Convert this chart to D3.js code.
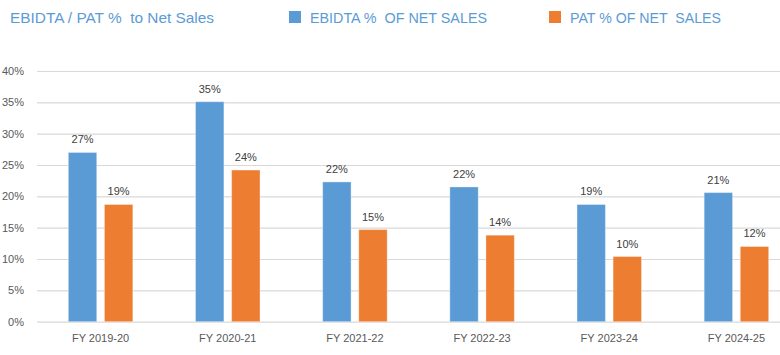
<!DOCTYPE html>
<html><head><meta charset="utf-8">
<script src="https://cdn.jsdelivr.net/npm/d3@7"></script>
<style>
html,body{margin:0;padding:0;background:#fff;overflow:hidden;}
text{white-space:pre;font-family:"Liberation Sans",Arial,sans-serif;}
</style></head>
<body><svg id="c" width="780" height="355"></svg>
<script>
const categories = ["FY 2019-20","FY 2020-21","FY 2021-22","FY 2022-23","FY 2023-24","FY 2024-25"];
const ebitda = [27.0, 35.1, 22.3, 21.5, 18.7, 20.6];
const pat = [18.7, 24.2, 14.7, 13.8, 10.4, 12.0];
const ebitdaLabels = ["27%","35%","22%","22%","19%","21%"];
const patLabels = ["19%","24%","15%","14%","10%","12%"];
const yTicks = [0,5,10,15,20,25,30,35,40];
const seriesNames = ["EBIDTA %  OF NET SALES","PAT % OF NET  SALES"];
const colors = ["#5B9BD5","#ED7D31"];
const title = "EBIDTA / PAT %  to Net Sales";

const svg = d3.select("#c");
const x = d3.scaleBand().domain(categories).range([37, 800]).paddingInner(0).paddingOuter(0);
const groupW = 64.5;
const xs = d3.scaleBand().domain([0,1]).range([0, groupW]).paddingInner(0.213);
const y = d3.scaleLinear().domain([0,40]).range([321.7, 71]);

// gridlines
const gy = svg.append("g")
  .call(d3.axisLeft(y).tickValues(yTicks).tickSize(-(800-37)).tickFormat(d=>d+"%"))
  .attr("transform","translate(37,0)");
gy.select(".domain").remove();
gy.selectAll(".tick line").attr("stroke","#d9d9d9").attr("stroke-width",1.2);
gy.selectAll(".tick text").attr("x",-13).attr("fill","#595959").attr("font-size",11)
  .attr("font-family","Liberation Sans, Arial, sans-serif");

// x axis labels
const gx = svg.append("g").attr("transform","translate(0,321.7)")
  .call(d3.axisBottom(x).tickSize(0).tickPadding(12.5));
gx.select(".domain").remove();
gx.selectAll(".tick text").attr("fill","#595959").attr("font-size",11)
  .attr("font-family","Liberation Sans, Arial, sans-serif");

const series = [ebitda, pat];
const labels = [ebitdaLabels, patLabels];
series.forEach((vals, si) => {
  const g = svg.append("g");
  const x0 = c => x(c) + (x.bandwidth() - groupW)/2 + xs(si);
  g.selectAll("rect").data(categories).join("rect")
    .attr("x", c => x0(c))
    .attr("width", xs.bandwidth())
    .attr("y", (c,i) => y(vals[i]))
    .attr("height", (c,i) => y(0) - y(vals[i]))
    .attr("fill", colors[si])
    .attr("stroke", "#fff").attr("stroke-opacity",0.35).attr("stroke-width",1);
  g.selectAll("text").data(categories).join("text")
    .attr("x", c => x0(c) + xs.bandwidth()/2)
    .attr("y", (c,i) => y(vals[i]) - 9)
    .attr("text-anchor","middle")
    .attr("fill","#404040").attr("font-size",11)
    .text((c,i) => labels[si][i]);
});

// title
svg.append("text").attr("x",10).attr("y",22.5).attr("fill","#5B9BD5")
  .attr("font-size",15).attr("textLength",204).attr("lengthAdjust","spacingAndGlyphs").text(title);

// legend
const legX = [289, 549];
const legW = [177, 151];
seriesNames.forEach((n,i)=>{
  svg.append("rect").attr("x",legX[i]).attr("y",11).attr("width",12).attr("height",12).attr("fill",colors[i]);
  svg.append("text").attr("x",legX[i]+21).attr("y",22.5).attr("fill","#5B9BD5")
    .attr("font-size",15).attr("textLength",legW[i]).attr("lengthAdjust","spacingAndGlyphs").text(n);
});
</script></body></html>
